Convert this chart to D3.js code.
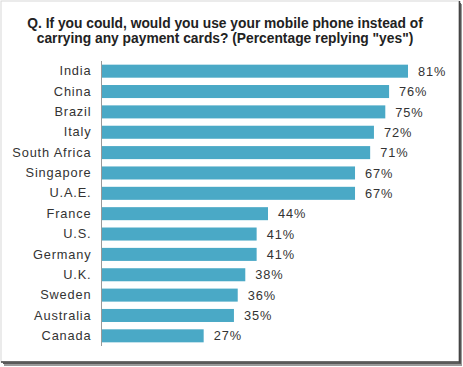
<!DOCTYPE html>
<html><head><meta charset="utf-8">
<script src="https://cdn.jsdelivr.net/npm/d3@7"></script>
<style>html,body{margin:0;padding:0;background:#fff;}svg{display:block;}</style>
</head><body>
<svg id="chart" width="463" height="367"></svg>
<script>
const categories = ["India","China","Brazil","Italy","South Africa","Singapore","U.A.E.","France","U.S.","Germany","U.K.","Sweden","Australia","Canada"];
const values = [81,76,75,72,71,67,67,44,41,41,38,36,35,27];
const titleLines = ["Q. If you could, would you use your mobile phone instead of","carrying any payment cards? (Percentage replying \"yes\")"];

const svg = d3.select("#chart");
// frame with shadow
svg.append("rect").attr("x",4).attr("y",4).attr("width",458).attr("height",362).attr("fill","#9a9a9a");
svg.append("rect").attr("x",3).attr("y",3).attr("width",458).attr("height",361).attr("fill","#5a5a5a");
svg.append("rect").attr("x",1).attr("y",1).attr("width",458).attr("height",361).attr("fill","#ffffff").attr("stroke","#d8d8d8").attr("stroke-width",1);
svg.append("line").attr("x1",459.5).attr("x2",459.5).attr("y1",1).attr("y2",362.5).attr("stroke","#444").attr("stroke-width",1.5);
svg.append("line").attr("x1",1).attr("x2",460).attr("y1",362).attr("y2",362).attr("stroke","#444").attr("stroke-width",1.5);

// title
svg.append("g").selectAll("text").data(titleLines).join("text")
  .attr("x",225).attr("y",(d,i)=>27.5+i*15)
  .attr("text-anchor","middle")
  .attr("font-family","Liberation Sans, Arial, sans-serif")
  .attr("font-weight","bold").attr("font-size",13.8).attr("fill","#222")
  .text(d=>d);

const x0 = 101.5;
const x = d3.scaleLinear().domain([0,81]).range([x0, 408]);
const y = d3.scaleBand().domain(categories).range([61,346]).paddingInner(0.36).paddingOuter(0.18);

svg.append("g").selectAll("rect").data(values).join("rect")
  .attr("x",x(0)).attr("y",(d,i)=>y(categories[i]))
  .attr("width",d=>x(d)-x(0)).attr("height",y.bandwidth())
  .attr("fill","#4aa9c6");

const yAxis = svg.append("g").attr("transform",`translate(${x0},0)`)
  .call(d3.axisLeft(y).tickSize(0).tickPadding(10));
yAxis.select(".domain").attr("stroke","#999").attr("d","M0,61V346");
yAxis.selectAll("text").attr("font-family","Liberation Sans, Arial, sans-serif").attr("font-size",12.8).attr("letter-spacing",0.85).attr("fill","#333");

svg.append("g").selectAll("text").data(values).join("text")
  .attr("x",d=>x(d)+10).attr("y",(d,i)=>y(categories[i])+y.bandwidth()/2)
  .attr("dy","0.36em")
  .attr("font-family","Liberation Sans, Arial, sans-serif").attr("font-size",12.8).attr("letter-spacing",0.9).attr("fill","#333")
  .text(d=>d+"%");
</script>
</body></html>
